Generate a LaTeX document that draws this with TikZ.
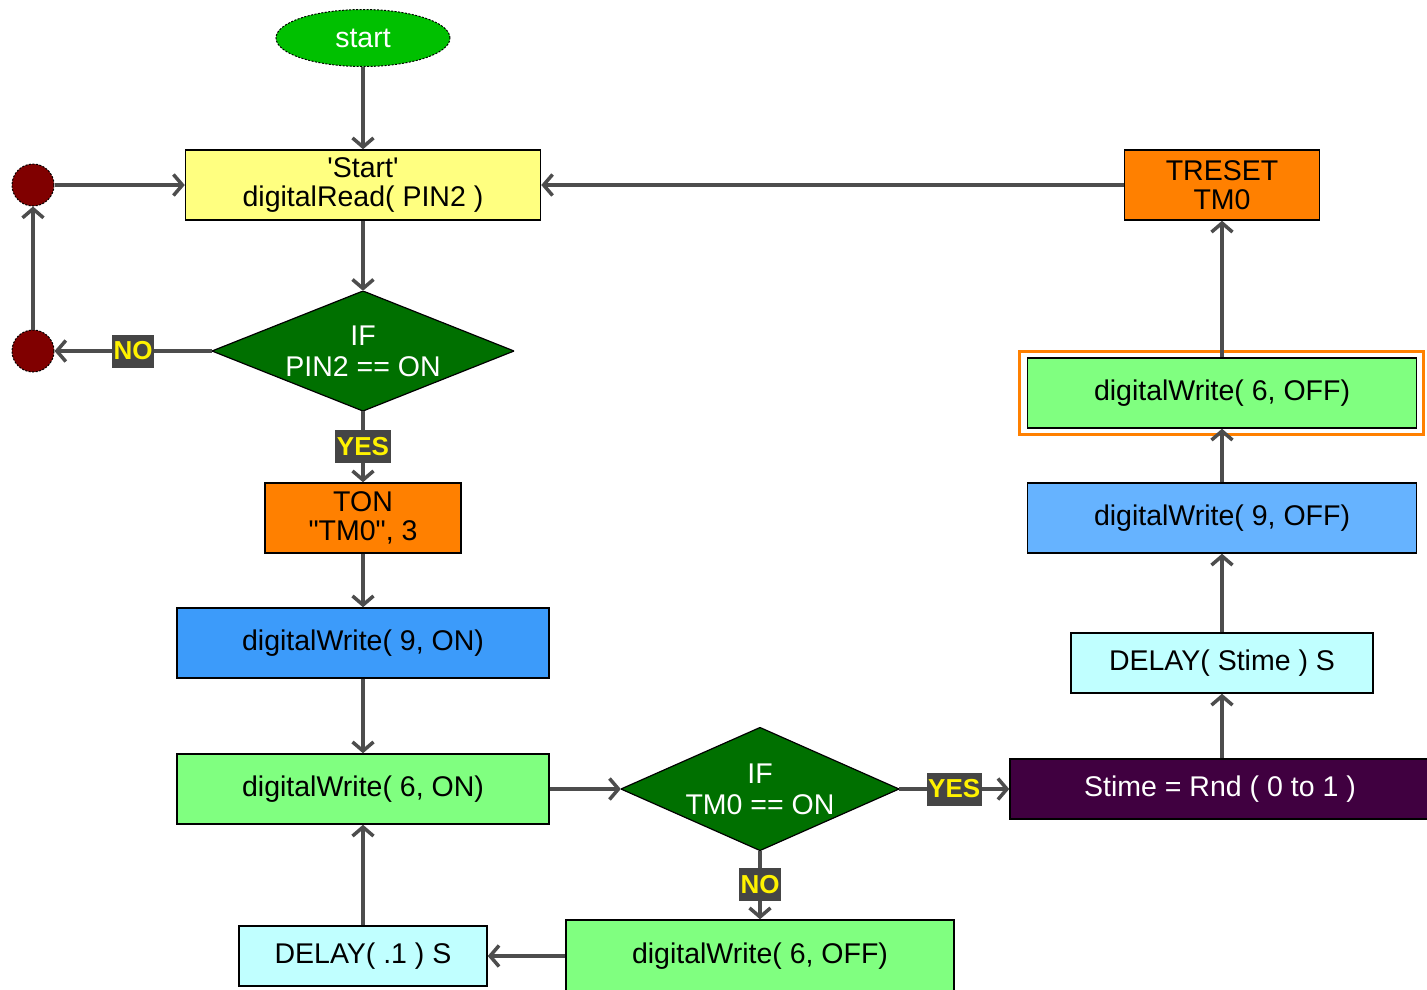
\documentclass[tikz,border=0pt]{standalone}
\usepackage{fontspec}
\setmainfont{Liberation Sans}
\usetikzlibrary{shapes.geometric,arrows.meta}
\definecolor{linec}{HTML}{4D4D4D}
\definecolor{yel}{HTML}{FFFF80}
\definecolor{org}{HTML}{FF8000}
\definecolor{blu}{HTML}{3C9BFA}
\definecolor{lblu}{HTML}{66B3FF}
\definecolor{lgrn}{HTML}{80FF80}
\definecolor{cyn}{HTML}{C0FFFF}
\definecolor{pur}{HTML}{400040}
\definecolor{dgrn}{HTML}{007000}
\definecolor{sgrn}{HTML}{00C000}
\definecolor{dred}{HTML}{800000}
\definecolor{lblbg}{HTML}{454545}
\tikzset{
  box/.style={draw=black, line width=1.5pt, rectangle, inner sep=0pt, align=center, font=\fontsize{28.5}{31}\selectfont},
  dia/.style={rectangle, draw=none, text=white, inner sep=0pt, align=center, font=\fontsize{28.5}{31}\selectfont,
    path picture={\filldraw[fill=dgrn, draw=black, line width=1.2pt] (path picture bounding box.north) -- (path picture bounding box.east) -- (path picture bounding box.south) -- (path picture bounding box.west) -- cycle;}},
  dot/.style={circle, fill=dred, draw=black, line width=1pt, dash pattern=on 2pt off 1.5pt, minimum size=42pt, inner sep=0pt},
  arr/.style={draw=linec, line width=3.5pt, -{Straight Barb[length=9pt,width=21pt]}},
  lbl/.style={fill=lblbg, text=yellow, font=\bfseries\fontsize{26}{28}\selectfont, inner xsep=1.5pt, inner ysep=0pt, minimum height=33pt}
}
\begin{document}
\begin{tikzpicture}[x=1pt,y=-1pt]
\useasboundingbox (0,0) rectangle (1427,989);
\fill[white] (0,0) rectangle (1427,989);
% nodes
\node[ellipse, fill=sgrn, draw=black, line width=1pt, dash pattern=on 2pt off 1.5pt, minimum width=174pt, minimum height=57pt, text=white, font=\fontsize{28.5}{31}\selectfont] (start) at (363,38) {start};
\node[box, fill=yel, minimum width=355pt, minimum height=70pt, font=\fontsize{28.5}{29}\selectfont] (rd) at (363,185) {\textquotesingle Start\textquotesingle\\digitalRead( PIN2 )};
\node[dot] (c1) at (33,185) {};
\node[dot] (c2) at (33,351) {};
\node[dia, minimum width=302pt, minimum height=120pt] (d1) at (363,351) {IF\\PIN2 == ON};
\node[box, fill=org, minimum width=196pt, minimum height=70pt, font=\fontsize{28.5}{29}\selectfont] (ton) at (363,518) {TON\\\textquotedbl TM0\textquotedbl, 3};
\node[box, fill=blu, minimum width=372pt, minimum height=70pt] (w9on) at (363,643) {digitalWrite( 9, ON)};
\node[box, fill=lgrn, minimum width=372pt, minimum height=70pt] (w6on) at (363,789) {digitalWrite( 6, ON)};
\node[dia, minimum width=278pt, minimum height=123pt] (d2) at (760,789) {IF\\TM0 == ON};
\node[box, fill=pur, text=white, minimum width=420pt, minimum height=60pt] (rnd) at (1220,789) {Stime = Rnd ( 0 to 1 )};
\node[box, fill=lgrn, minimum width=388pt, minimum height=72pt] (w6offb) at (760,956) {digitalWrite( 6, OFF)};
\node[box, fill=cyn, minimum width=248pt, minimum height=60pt] (dl1) at (363,956) {DELAY( .1 ) S};
\node[box, fill=cyn, minimum width=302pt, minimum height=60pt] (dls) at (1222,663) {DELAY( Stime ) S};
\node[box, fill=lblu, minimum width=389pt, minimum height=70pt] (w9off) at (1222,518) {digitalWrite( 9, OFF)};
\node[box, fill=lgrn, minimum width=389pt, minimum height=70pt] (w6offu) at (1222,393) {digitalWrite( 6, OFF)};
\draw[org, line width=3pt] ([shift={(-7,-6)}]w6offu.north west) rectangle ([shift={(6,6)}]w6offu.south east);
\node[box, fill=org, minimum width=195pt, minimum height=70pt, font=\fontsize{28.5}{29}\selectfont] (trs) at (1222,185) {TRESET\\TM0};
% connectors
\draw[arr] (start) -- (rd);
\draw[arr] (c1) -- (rd.west);
\draw[arr] (trs.west) -- (rd.east);
\draw[arr] (rd) -- (d1.north);
\draw[arr] (d1.west) -- node[lbl] {NO} (c2);
\draw[arr] (c2) -- (c1);
\draw[arr] (d1.south) -- node[lbl] {YES} (ton.north);
\draw[arr] (ton) -- (w9on);
\draw[arr] (w9on) -- (w6on);
\draw[arr] (w6on.east) -- (d2.west);
\draw[arr] (d2.east) -- node[lbl] {YES} (rnd.west);
\draw[arr] (d2.south) -- node[lbl] {NO} (w6offb.north);
\draw[arr] (w6offb.west) -- (dl1.east);
\draw[arr] (dl1) -- (w6on);
\draw[arr] (rnd.north -| dls) -- (dls);
\draw[arr] (dls) -- (w9off);
\draw[arr] (w9off) -- (w6offu);
\draw[arr] (w6offu) -- (trs);
\end{tikzpicture}
\end{document}
